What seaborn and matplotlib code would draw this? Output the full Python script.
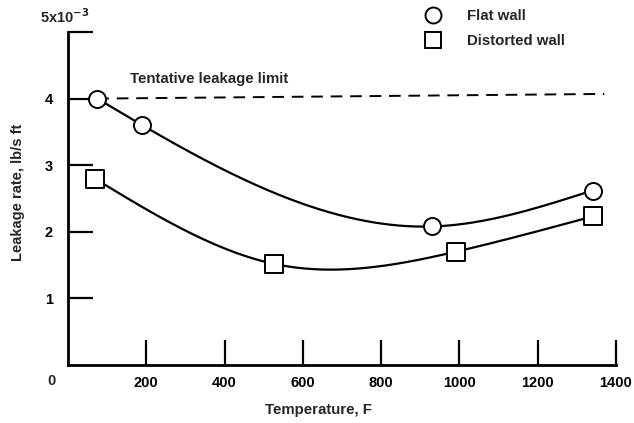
import numpy as np
import pandas as pd
import matplotlib
matplotlib.use("Agg")
import matplotlib.pyplot as plt
import seaborn as sns
from matplotlib.lines import Line2D

# Data (leakage rate in units of 1e-3 lb/s ft)
flat_temp = [75, 190, 930, 1340]
flat_rate = [4.0, 3.6, 2.08, 2.62]
dist_temp = [68, 525, 990, 1340]
dist_rate = [2.8, 1.52, 1.70, 2.23]
limit_temp = [75, 1370]
limit_rate = [4.0, 4.07]
x_ticks = [200, 400, 600, 800, 1000, 1200, 1400]
y_ticks = [1, 2, 3, 4, 5]
y_ticklabels = ["1", "2", "3", "4", ""]


def natural_spline(x, y, n=300):
    x = np.asarray(x, float); y = np.asarray(y, float)
    k = len(x); h = np.diff(x)
    A = np.zeros((k, k)); b = np.zeros(k)
    A[0, 0] = A[-1, -1] = 1
    for i in range(1, k - 1):
        A[i, i - 1] = h[i - 1]; A[i, i] = 2 * (h[i - 1] + h[i]); A[i, i + 1] = h[i]
        b[i] = 3 * ((y[i + 1] - y[i]) / h[i] - (y[i] - y[i - 1]) / h[i - 1])
    c = np.linalg.solve(A, b)
    xs = np.linspace(x[0], x[-1], n)
    idx = np.clip(np.searchsorted(x, xs) - 1, 0, k - 2)
    dx = xs - x[idx]
    bb = (y[1:] - y[:-1]) / h - h * (2 * c[:-1] + c[1:]) / 3
    d = (c[1:] - c[:-1]) / (3 * h)
    ys = y[idx] + bb[idx] * dx + c[idx] * dx ** 2 + d[idx] * dx ** 3
    return xs, ys


sns.set_theme(style="white")
plt.rcParams['font.family'] = ['Liberation Sans', 'DejaVu Sans']

fig = plt.figure(figsize=(6.34, 4.23), dpi=100)
ax = fig.add_axes([68 / 634, 1 - 365 / 423, 548 / 634, 333 / 423])

fx, fy = natural_spline(flat_temp, flat_rate)
dx_, dy_ = natural_spline(dist_temp, dist_rate)
sns.lineplot(x=fx, y=fy, ax=ax, color="black", lw=1.6, sort=False)
sns.lineplot(x=dx_, y=dy_, ax=ax, color="black", lw=1.6, sort=False)
sns.lineplot(x=limit_temp, y=limit_rate, ax=ax, color="black", lw=1.4)
ax.lines[-1].set_linestyle((0, (6, 4)))

ax.scatter(flat_temp, flat_rate, s=150, marker="o", facecolor="white",
           edgecolor="black", linewidth=1.4, zorder=5)
ax.scatter(dist_temp, dist_rate, s=170, marker="s", facecolor="white",
           edgecolor="black", linewidth=1.4, zorder=5)

ax.set_xlim(0, 1400)
ax.set_ylim(0, 5)
ax.set_xticks(x_ticks)
ax.set_xticklabels([str(t) for t in x_ticks])
ax.set_yticks(y_ticks)
ax.set_yticklabels(y_ticklabels)
ax.tick_params(axis="both", direction="in", length=18, width=1.6,
               colors="black", labelsize=10.5, bottom=True, left=True)
ax.tick_params(axis="x", pad=8)
ax.tick_params(axis="y", pad=11)
for lab in ax.get_xticklabels() + ax.get_yticklabels():
    lab.set_fontweight("bold")
for s in ["top", "right"]:
    ax.spines[s].set_visible(False)
for s in ["left", "bottom"]:
    ax.spines[s].set_linewidth(2)
    ax.spines[s].set_color("black")
ax.set_xlabel(""); ax.set_ylabel("")

ax.text(158, 4.3, "Tentative leakage limit", fontsize=10.8, fontweight="bold",
        ha="left", va="center")

fig.text(51 / 634, 1 - 381 / 423, "0", fontsize=10.5, fontweight="bold",
         ha="center", va="center")
fig.text(65 / 634, 1 - 17 / 423, r"5x10$^{\mathbf{-3}}$", fontsize=10.5,
         fontweight="bold", ha="center", va="center")
fig.text(318 / 634, 1 - 410 / 423, "Temperature, F", fontsize=10.8,
         fontweight="bold", ha="center", va="center")
fig.text(18 / 634, 1 - 192 / 423, "Leakage rate, lb/s ft", fontsize=10.5,
         fontweight="bold", ha="center", va="center", rotation=90)

handles = [Line2D([], [], marker="o", ls="none", markersize=11.5, mfc="white",
                  mec="black", mew=1.4, label="Flat wall"),
           Line2D([], [], marker="s", ls="none", markersize=12, mfc="white",
                  mec="black", mew=1.4, label="Distorted wall")]
leg = fig.legend(handles=handles, loc="upper left",
                 bbox_to_anchor=(424 / 634, 1 - 9 / 423), frameon=False,
                 handlelength=1.2, handletextpad=1.7, labelspacing=0.75,
                 prop={"size": 10.8, "weight": "bold"}, borderaxespad=0,
                 borderpad=0)

fig.savefig("out.png", dpi=100, facecolor="white")
